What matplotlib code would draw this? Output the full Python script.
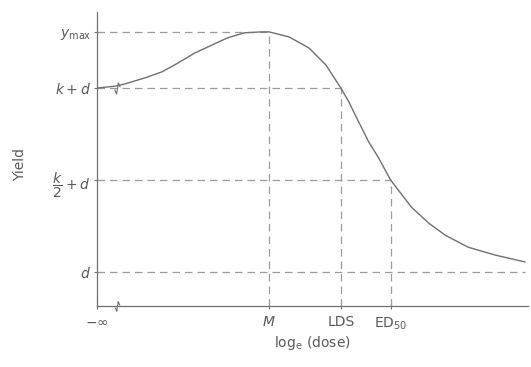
"""Schematic dose-response (hormesis) curve: yield vs log dose."""

import matplotlib

matplotlib.use("Agg")

import matplotlib.pyplot as plt

# Curve values (x in arbitrary log-dose units, y in yield units)
curve_x = [0.0, 1.8, 2.8, 4.8, 6.5, 8.1, 9.8, 11.5, 13.1, 14.8, 16.5, 17.3,
           19.3, 21.3, 23.0, 24.5, 25.3, 26.3, 27.3, 28.3, 29.5, 31.6, 33.3,
           35.0, 37.3, 40.0, 43.0]
curve_y = [5.0, 5.04, 5.09, 5.22, 5.35, 5.54, 5.76, 5.93, 6.09, 6.20, 6.22, 6.22,
           6.11, 5.87, 5.50, 5.0, 4.70, 4.26, 3.83, 3.48, 3.0, 2.41, 2.07,
           1.80, 1.54, 1.37, 1.22]

# Reference levels on the yield axis
d = 1.0
k = 4.0
y_max = 6.22
y_levels = [d, k / 2 + d, k + d, y_max]
y_labels = ["$d$", r"$\dfrac{k}{2}+d$", "$k+d$", "$y_{\\mathrm{max}}$"]

# Key doses on the x axis
x_M = 17.3
x_LDS = 24.5
x_ED50 = 29.5
x_ticks = [0.0, x_M, x_LDS, x_ED50]
x_labels = [r"$-\infty$", "$M$", "LDS", "ED$_{50}$"]
break_x = 2.0
x_end = 43.0
y_bottom = 0.26

LINE = "#707070"
DASH = "#9c9c9c"
TEXT = "#5a5a5a"

fig = plt.figure(figsize=(5.31, 3.67), dpi=100)
ax = fig.add_axes([0.183, 0.166, 0.811, 0.801])

ax.plot(curve_x, curve_y, color=LINE, linewidth=1.0, zorder=3)

dash = dict(color=DASH, linewidth=0.9, linestyle=(0, (6, 4)), zorder=2)
# horizontal guides run from the axis to the dose where the curve hits the level
ax.plot([0, x_M], [y_max, y_max], **dash)
ax.plot([0, x_LDS], [k + d, k + d], **dash)
ax.plot([0, x_ED50], [k / 2 + d, k / 2 + d], **dash)
ax.plot([0, x_end], [d, d], **dash)
# vertical guides down to the dose axis
ax.plot([x_M, x_M], [y_bottom, y_max], **dash)
ax.plot([x_LDS, x_LDS], [y_bottom, k + d], **dash)
ax.plot([x_ED50, x_ED50], [y_bottom, k / 2 + d], **dash)

# axis breaks next to -inf
brk = [(-0.5, -0.2), (-0.15, -1.0), (0.15, 1.0), (0.5, 0.2)]
ax.plot([break_x], [k + d], marker=brk, markersize=8, color=LINE,
        markerfacecolor="none", markeredgewidth=0.8, linestyle="none", zorder=4)
ax.plot([break_x], [y_bottom], marker=brk, markersize=7, color=LINE,
        markerfacecolor="none", markeredgewidth=0.8, linestyle="none",
        clip_on=False, zorder=4)

ax.set_xlim(0, 43.3)
ax.set_ylim(y_bottom, 6.65)
for side in ("top", "right"):
    ax.spines[side].set_visible(False)
for side in ("left", "bottom"):
    ax.spines[side].set_color(LINE)
    ax.spines[side].set_linewidth(0.9)

ax.set_xticks(x_ticks)
ax.set_xticklabels(x_labels)
ax.set_yticks(y_levels)
ax.set_yticklabels(y_labels)
ax.tick_params(axis="both", direction="inout", length=5, width=0.8,
               color=LINE, labelcolor=TEXT, labelsize=10)
ax.tick_params(axis="x", pad=4)
ax.tick_params(axis="y", pad=2)

ax.set_xlabel("log$_{\\mathrm{e}}$ (dose)", color=TEXT, fontsize=10, labelpad=2)
ax.set_ylabel("Yield", color=TEXT, fontsize=10)
ax.yaxis.set_label_coords(-0.163, 0.48)

fig.savefig("out.png", dpi=100)
